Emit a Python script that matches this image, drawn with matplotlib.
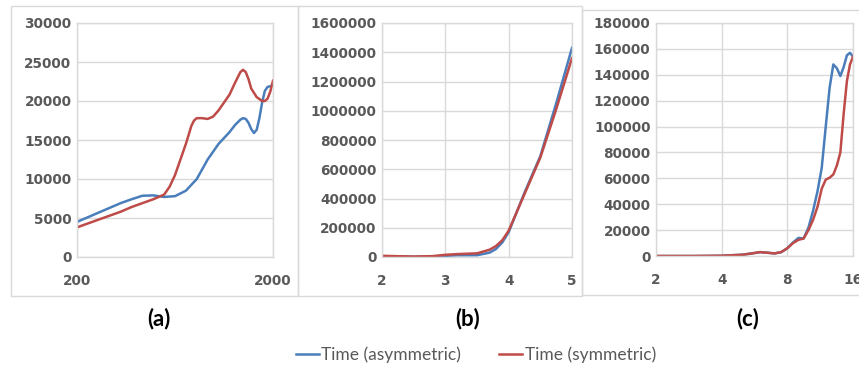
import numpy as np
import matplotlib
matplotlib.use("Agg")
import matplotlib.pyplot as plt
from matplotlib.patches import Rectangle
from matplotlib.lines import Line2D

# tick labels: heavy, wide digits
plt.rcParams['font.family'] = ['DejaVu Sans']
plt.rcParams['font.weight'] = 'bold'

blue = '#4a7ebb'
red = '#be4b48'
grid_c = '#d9d9d9'
text_c = '#595959'

# ---- data ----
# (a)
a_x_blue = [200, 300, 400, 500, 600, 700, 800, 900, 1000, 1100, 1200, 1300, 1400,
            1500, 1600, 1650, 1700, 1725, 1750, 1775, 1800, 1825, 1850, 1875,
            1900, 1925, 1950, 2000]
a_blue = [4500, 5100, 5700, 6300, 6900, 7400, 7850, 7900, 7700, 7800, 8500, 10000, 12500,
          14500, 16000, 16900, 17600, 17800, 17700, 17200, 16400, 15900, 16300, 17800,
          19800, 21300, 21800, 22000]
a_x_red = [200, 300, 400, 500, 600, 700, 800, 900, 1000, 1050, 1100, 1150, 1200, 1250,
           1275, 1300, 1350, 1400, 1450, 1500, 1550, 1600, 1650, 1700, 1725, 1750,
           1775, 1800, 1850, 1900, 1925, 1950, 1975, 2000]
a_red = [3800, 4300, 4800, 5300, 5800, 6400, 6900, 7400, 8000, 9000, 10500, 12500, 14500, 16800,
         17500, 17800, 17800, 17700, 18000, 18800, 19800, 20800, 22300, 23700, 24000, 23700,
         22800, 21600, 20500, 20000, 20000, 20300, 21200, 22600]

# (b)
b_x = [2, 2.5, 2.8, 3, 3.2, 3.5, 3.7, 3.8, 3.9, 4, 4.25, 4.5, 4.75, 5]
b_blue = [5000, 2000, 3000, 8000, 12000, 12000, 30000, 55000, 100000, 170000,
          440000, 690000, 1050000, 1430000]
b_red = [8000, 3000, 6000, 15000, 20000, 25000, 50000, 75000, 115000, 180000,
         430000, 680000, 1010000, 1360000]

# (c)
c_x = [2, 3, 4, 5, 5.5, 6, 6.5, 7, 7.5, 8, 8.5, 9, 9.5, 10, 10.5, 11, 11.5, 12,
       12.5, 13, 13.5, 14, 14.5, 15, 15.5, 16]
c_blue = [0, 0, 200, 1000, 2000, 3000, 2500, 2000, 3000, 6000, 10500, 14000, 13500,
          22000, 35000, 50000, 68000, 100000, 130000, 148000, 145000, 139000, 146000,
          155000, 157000, 154000]
c_red = [0, 0, 200, 1000, 2000, 3000, 2500, 2000, 3000, 6000, 10000, 12500, 13500,
         20000, 28000, 38000, 52000, 59000, 60500, 63000, 70000, 80000, 110000,
         135000, 148000, 154000]

fig = plt.figure(figsize=(8.59, 3.73), dpi=100)

# panel borders
for x0, y0, w, h in [(11, 6, 287, 290), (298, 6, 284, 290), (582, 10, 290, 285)]:
    fig.patches.append(Rectangle((x0 / 859, (373 - y0 - h) / 373), w / 859, h / 373,
                                 transform=fig.transFigure, fill=False,
                                 edgecolor=grid_c, linewidth=1))


def style(ax):
    for s in ax.spines.values():
        s.set_color(grid_c)
        s.set_linewidth(1)
    ax.grid(True, color=grid_c, linewidth=1)
    ax.set_axisbelow(True)
    ax.tick_params(length=0, labelsize=9.8, labelcolor=text_c)
    ax.tick_params(axis='x', pad=12)
    ax.tick_params(axis='y', pad=4)


lw = 1.8

ax1 = fig.add_axes([77 / 859, 116 / 373, 196 / 859, 234 / 373])
ax1.plot(a_x_blue, a_blue, color=blue, lw=lw)
ax1.plot(a_x_red, a_red, color=red, lw=lw)
ax1.set_xlim(200, 2000)
ax1.set_ylim(0, 30000)
ax1.set_xticks([200, 2000])
ax1.set_yticks(range(0, 30001, 5000))
style(ax1)

ax2 = fig.add_axes([382 / 859, 116 / 373, 190 / 859, 234 / 373])
ax2.plot(b_x, b_blue, color=blue, lw=lw)
ax2.plot(b_x, b_red, color=red, lw=lw)
ax2.set_xlim(2, 5)
ax2.set_ylim(0, 1600000)
ax2.set_xticks([2, 3, 4, 5])
ax2.set_yticks(range(0, 1600001, 200000))
ax2.ticklabel_format(axis='y', style='plain', useOffset=False)
style(ax2)

ax3 = fig.add_axes([656 / 859, 117 / 373, 197 / 859, 233 / 373])
ax3.plot(c_x, c_blue, color=blue, lw=lw)
ax3.plot(c_x, c_red, color=red, lw=lw)
ax3.set_xscale('log', base=2)
ax3.set_xlim(2, 16)
ax3.set_ylim(0, 180000)
ax3.set_xticks([2, 4, 8, 16])
ax3.set_xticklabels(['2', '4', '8', '16'])
ax3.minorticks_off()
ax3.set_yticks(range(0, 180001, 20000))
style(ax3)

for x, t in [(159, '(a)'), (468, '(b)'), (748, '(c)')]:
    fig.text(x / 859, 1 - 319 / 373, t, ha='center', va='center',
             fontsize=16, fontweight='bold', color='black', family=['Lato', 'DejaVu Sans'])

handles = [Line2D([], [], color=blue, lw=lw), Line2D([], [], color=red, lw=lw)]
fig.legend(handles, ['Time (asymmetric)', 'Time (symmetric)'], loc='center',
           bbox_to_anchor=(476 / 859, 1 - 355 / 373), ncol=2, frameon=False,
           prop={'size': 12.5, 'weight': 'normal', 'family': ['Lato', 'DejaVu Sans']},
           handlelength=1.3, handletextpad=0.15, columnspacing=2.2, labelcolor=text_c)

fig.savefig('out.png', dpi=100)
